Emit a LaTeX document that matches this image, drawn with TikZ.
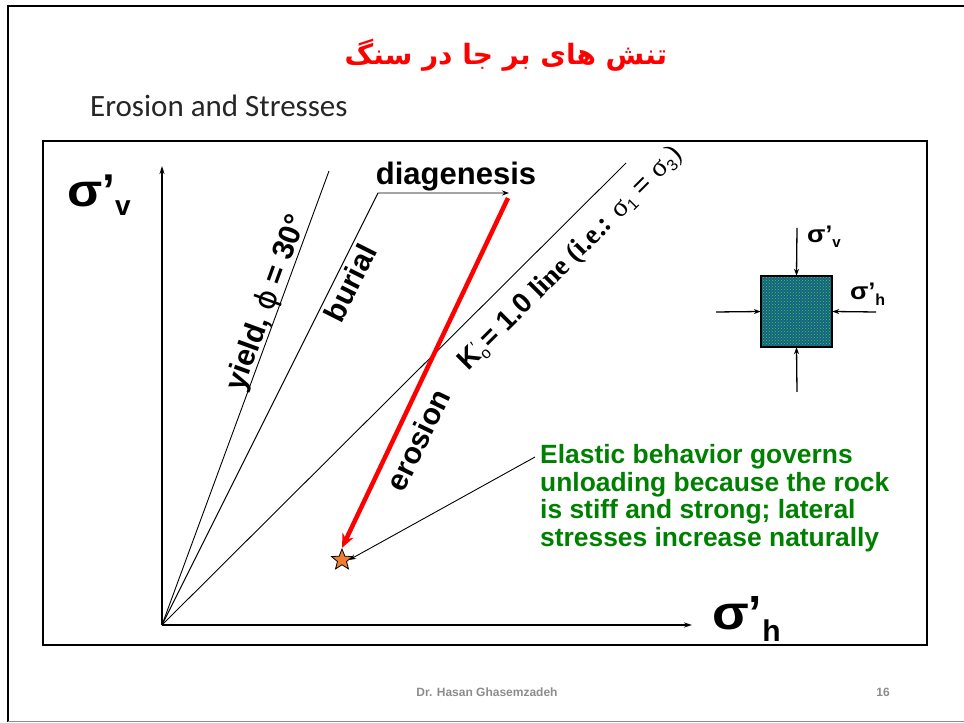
\documentclass[tikz,border=0pt]{standalone}
\usepackage{fontspec}
\setmainfont{Liberation Sans}
\newfontfamily\arabicfont[Script=Arabic]{DejaVu Sans}
\newfontfamily\calfont{Carlito}
\newfontfamily\timesfont{Liberation Serif}
\newfontfamily\djv{DejaVu Sans}
\TeXXeTstate=1
\usetikzlibrary{arrows.meta,shapes.geometric,patterns}
\definecolor{titlered}{RGB}{255,0,0}
\definecolor{notegreen}{RGB}{0,128,0}
\definecolor{starorange}{RGB}{237,125,49}
\definecolor{footgray}{RGB}{140,140,140}
\definecolor{rockblue}{RGB}{25,95,135}
\definecolor{rockgreen}{RGB}{50,215,70}
\newcommand{\fsz}[1]{\fontsize{#1}{#1}\selectfont}
\newcommand{\wsig}{\scalebox{1.12}[1]{σ}}
\begin{document}
\begin{tikzpicture}[x=1pt,y=1pt,
  lbl/.style={inner sep=0pt},
  thinline/.style={line width=0.9pt},
  axisline/.style={line width=1.8pt,-{Stealth[length=8pt,width=5pt]}},
  push/.style={line width=1.3pt,-{Stealth[length=7pt,width=5pt]}},
  rot/.style={inner sep=0pt, font=\bfseries\fsz{30}}
]
\useasboundingbox (0,0) rectangle (964,723);
% slide frame
\draw[line width=2.5pt] (8,1) -- (8,717) -- (964,717);
\draw[footgray, line width=1pt] (8,1) -- (964,1);
% diagram box
\draw[line width=1.5pt] (43,78) rectangle (927,582);

% title and subtitle
\node[font=\arabicfont\bfseries\fsz{28}, text=titlered] (title) at (506,668) {\beginR تنش های بر جا در سنگ\endR};
\node[font=\calfont\fsz{31}, anchor=west, text=black!85, inner sep=0] (sub) at (90,617) {Erosion and Stresses};

% axes
\coordinate (o) at (162,98);
\coordinate (ytip) at (162,557);
\coordinate (xtip) at (692,98);
\draw[axisline] (o) -- (ytip);
\draw[axisline] (o) -- (xtip);
\node[lbl, anchor=base west, font=\bfseries] (sv) at (67,516) {\fsz{46}\wsig’\raisebox{-9pt}{\fsz{28}v}};
\node[lbl, anchor=base west, font=\bfseries] (sh) at (712,93) {\fsz{48}\wsig’\raisebox{-12pt}{\fsz{30}h}};

% lines from origin
\coordinate (ytop) at (329,552);
\draw[thinline] (o) -- (ytop);
\coordinate (bcorner) at (378,530);
\coordinate (btip) at (509,530);
\draw[thinline, -{Stealth[length=7pt,width=5pt]}] (o) -- (bcorner) -- (btip);
\coordinate (ktop) at (626,560);
\draw[thinline] (o) -- (ktop);

% star and erosion arrow
\node[star, star points=5, star point ratio=2.3, minimum size=22pt, fill=starorange, draw=black, line width=0.8pt, inner sep=0pt] (star) at (342,163) {};
\coordinate (rtop) at (508,525);
\draw[red, line width=4.5pt, -{Stealth[length=14pt,width=12pt]}] (rtop) -- (star.north);

% labels
\node[rot] (yl) at (267,420) {\rotatebox{70}{yield, {\mdseries\djv ϕ} = 30°}};
\node[rot] (bl) at (350,440) {\rotatebox{63.4}{burial}};
\node[rot] (el) at (418,283) {\rotatebox{64}{erosion}};
\node[lbl, anchor=base, font=\bfseries\fsz{31}] (dl) at (456,538) {diagenesis};
\node[lbl, font=\fsz{28}] (kl) at (571,464) {\rotatebox{45}{\textbf{K}\rlap{\raisebox{-5pt}{\fsz{16}o}}\raisebox{8pt}{\fsz{16}′}\ \textbf{= 1.0} {\timesfont\bfseries line (i.e.: }{\timesfont σ}\raisebox{-4pt}{\fsz{16}1} = {\timesfont σ}\raisebox{-4pt}{\fsz{16}3}{\timesfont )}}};

% note
\node[anchor=north west, inner sep=0pt, align=left, text=notegreen, font=\bfseries\fontsize{26.4}{27.7}\selectfont] (note) at (540,279) {Elastic behavior governs\\unloading because the rock\\is stiff and strong; lateral\\stresses increase naturally};
\coordinate (cs) at (535,266);
\draw[thinline, -{Stealth[length=7pt,width=5pt]}] (cs) -- (star.east);

% element
\node[minimum size=71pt, inner sep=0pt, fill=rockblue] (sq) at (796.5,411.5) {};
\path[pattern=crosshatch dots, pattern color=rockgreen] (sq.south west) rectangle (sq.north east);
\draw[line width=1.5pt] (sq.south west) rectangle (sq.north east);
\coordinate (pt) at (797,495);
\coordinate (pb) at (797,331);
\coordinate (pl) at (716,411);
\coordinate (pr) at (876,411);
\draw[push] (pt) -- (sq.north);
\draw[push] (pb) -- (sq.south);
\draw[push] (pl) -- (sq.west);
\draw[push] (pr) -- (sq.east);
\node[lbl, anchor=base west, font=\bfseries] (sv2) at (807,480) {\fsz{24}\wsig’\raisebox{-5pt}{\fsz{15}v}};
\node[lbl, anchor=base west, font=\bfseries] (sh2) at (850,423) {\fsz{24}\wsig’\raisebox{-6pt}{\fsz{16}h}};

% footer
\node[text=footgray, font=\bfseries\fsz{12}] (foot) at (487,31) {Dr. Hasan Ghasemzadeh};
\node[text=footgray, font=\bfseries\fsz{12}] (pg) at (883,31) {16};
\end{tikzpicture}
\end{document}
